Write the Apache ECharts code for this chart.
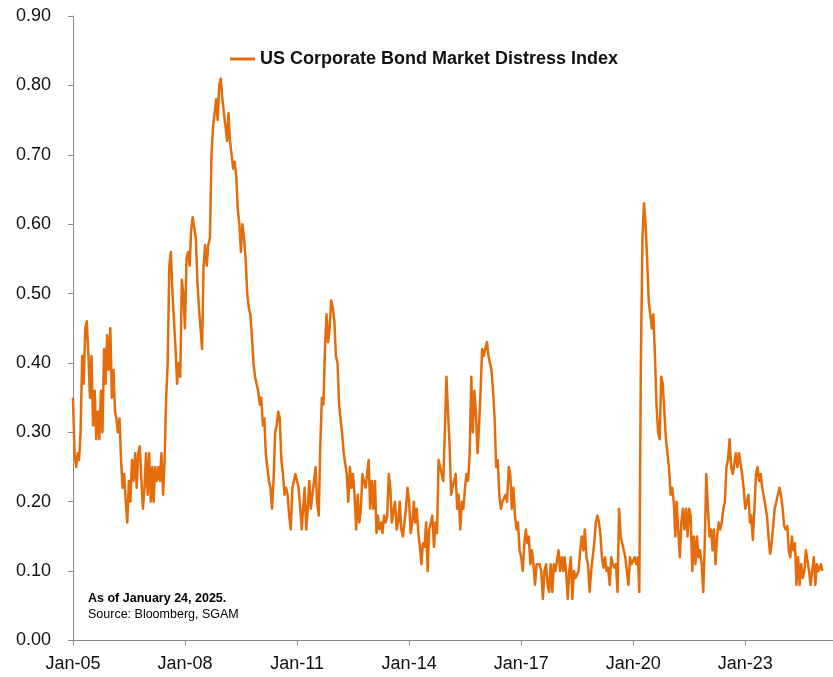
<!DOCTYPE html>
<html>
<head>
<meta charset="utf-8">
<script src="https://cdn.jsdelivr.net/npm/echarts@6/dist/echarts.min.js"></script>
<style>
  html, body { margin: 0; padding: 0; background: #ffffff; }
  #chart { width: 833px; height: 677px; }
</style>
</head>
<body>
<div id="chart"></div>
<script>
// US Corporate Bond Market Distress Index, readings on the 1st and 16th of each month
const v2005 = [0.35,0.27,0.25,0.27,0.26,0.30,0.41,0.37,0.45,0.46,0.41,0.35,0.41,0.31,0.36,0.29,0.33,0.29,0.36,0.30,0.42,0.37,0.44,0.39];
const v2006 = [0.45,0.35,0.39,0.33,0.32,0.30,0.32,0.26,0.22,0.24,0.20,0.17,0.23,0.20,0.26,0.23,0.27,0.22,0.27,0.28,0.23,0.19,0.22,0.27];
const v2007 = [0.21,0.27,0.20,0.25,0.20,0.25,0.23,0.25,0.23,0.27,0.21,0.26,0.35,0.40,0.54,0.56,0.50,0.46,0.42,0.37,0.40,0.38,0.52,0.50];
const v2008 = [0.45,0.55,0.56,0.54,0.59,0.61,0.61,0.58,0.52,0.48,0.45,0.42,0.54,0.57,0.54,0.57,0.58,0.70,0.74,0.74,0.78,0.75,0.80,0.81];
const v2009 = [0.78,0.76,0.74,0.72,0.76,0.72,0.70,0.68,0.69,0.67,0.62,0.60,0.56,0.60,0.58,0.55,0.50,0.48,0.47,0.44,0.40,0.38,0.37,0.36];
const v2010 = [0.34,0.35,0.31,0.32,0.27,0.25,0.23,0.22,0.19,0.23,0.30,0.31,0.33,0.32,0.26,0.24,0.21,0.22,0.21,0.18,0.16,0.22,0.22,0.24];
const v2011 = [0.24,0.22,0.19,0.16,0.19,0.22,0.16,0.19,0.23,0.19,0.19,0.23,0.25,0.20,0.18,0.28,0.35,0.34,0.42,0.47,0.43,0.45,0.49,0.48];
const v2012 = [0.46,0.41,0.40,0.34,0.32,0.30,0.27,0.27,0.24,0.20,0.25,0.22,0.24,0.21,0.16,0.21,0.17,0.19,0.24,0.23,0.22,0.24,0.26,0.19];
const v2013 = [0.23,0.19,0.23,0.155,0.18,0.16,0.17,0.155,0.18,0.17,0.18,0.24,0.22,0.17,0.17,0.20,0.16,0.17,0.20,0.16,0.15,0.17,0.19,0.22];
const v2014 = [0.20,0.155,0.17,0.20,0.17,0.19,0.155,0.135,0.11,0.14,0.135,0.17,0.10,0.16,0.17,0.18,0.135,0.17,0.155,0.26,0.25,0.25,0.23,0.30];
const v2015 = [0.38,0.33,0.28,0.21,0.22,0.22,0.24,0.19,0.21,0.16,0.20,0.19,0.22,0.24,0.23,0.27,0.38,0.30,0.36,0.33,0.27,0.31,0.36,0.42];
const v2016 = [0.41,0.42,0.43,0.41,0.40,0.39,0.36,0.32,0.25,0.26,0.21,0.19,0.20,0.20,0.21,0.20,0.25,0.24,0.19,0.22,0.18,0.16,0.17,0.13];
const v2017 = [0.12,0.10,0.14,0.16,0.14,0.15,0.11,0.13,0.11,0.08,0.11,0.11,0.11,0.10,0.06,0.10,0.11,0.08,0.07,0.11,0.07,0.11,0.10,0.10];
const v2018 = [0.13,0.10,0.12,0.10,0.12,0.10,0.06,0.10,0.12,0.06,0.10,0.09,0.09,0.10,0.13,0.15,0.13,0.16,0.12,0.11,0.07,0.10,0.12,0.14];
const v2019 = [0.17,0.18,0.17,0.15,0.12,0.105,0.12,0.10,0.105,0.08,0.12,0.11,0.105,0.11,0.07,0.19,0.15,0.15,0.13,0.12,0.12,0.08,0.12,0.11];
const v2020 = [0.11,0.12,0.11,0.12,0.07,0.40,0.58,0.63,0.60,0.55,0.49,0.47,0.45,0.47,0.41,0.34,0.30,0.29,0.38,0.37,0.33,0.29,0.27,0.25];
const v2021 = [0.21,0.22,0.20,0.15,0.20,0.16,0.12,0.17,0.19,0.16,0.19,0.15,0.19,0.18,0.10,0.15,0.11,0.15,0.12,0.13,0.11,0.07,0.14,0.24];
const v2022 = [0.19,0.15,0.16,0.13,0.16,0.11,0.15,0.17,0.16,0.17,0.19,0.20,0.25,0.26,0.29,0.25,0.24,0.24,0.27,0.25,0.27,0.27,0.24,0.22];
const v2023 = [0.19,0.19,0.21,0.17,0.18,0.145,0.19,0.24,0.25,0.23,0.24,0.22,0.22,0.195,0.18,0.15,0.125,0.14,0.165,0.19,0.20,0.21,0.22,0.21];
const v2024 = [0.19,0.165,0.16,0.165,0.13,0.12,0.15,0.13,0.14,0.08,0.12,0.08,0.11,0.09,0.10,0.13,0.13,0.10,0.08,0.10,0.12,0.08,0.11,0.10];
const dates2025 = ['2025-01-10', '2025-01-24'];
const v2025 = [0.11, 0.10];

const seriesName = 'US Corporate Bond Market Distress Index';
const xTickDates = ['2005-01-01','2008-01-01','2011-01-01','2014-01-01','2017-01-01','2020-01-01','2023-01-01'];
const xAxisEnd = '2025-05-08';
const noteLines = ['As of January 24, 2025.', 'Source: Bloomberg, SGAM'];

const yearly = [v2005,v2006,v2007,v2008,v2009,v2010,v2011,v2012,v2013,v2014,
                v2015,v2016,v2017,v2018,v2019,v2020,v2021,v2022,v2023,v2024];

// The x axis is measured in years elapsed since 1 Jan 2005
const ORIGIN = Date.UTC(2005, 0, 1);
const YEAR_MS = 365.25 * 864e5;
const yearsSince = ms => (ms - ORIGIN) / YEAR_MS;
const parseDay = s => {
  const [y, m, d] = s.split('-').map(Number);
  return Date.UTC(y, m - 1, d);
};

const points = [];
yearly.forEach((vals, yi) => {
  const year = 2005 + yi;
  vals.forEach((v, k) => {
    points.push([yearsSince(Date.UTC(year, Math.floor(k / 2), k % 2 ? 16 : 1)), v]);
  });
});
dates2025.forEach((d, i) => points.push([yearsSince(parseDay(d)), v2025[i]]));

const tickPos = xTickDates.map(d => yearsSince(parseDay(d)));
const tickLabel = {};
xTickDates.forEach((d, i) => { tickLabel[tickPos[i].toFixed(4)] = 'Jan-' + d.slice(2, 4); });

const FONT = '"Liberation Sans", Arial, Helvetica, sans-serif';
const ORANGE = '#E46C0A';
const AXIS = '#8a8a8a';
const TEXT = '#111111';

const chart = echarts.init(document.getElementById('chart'), null, { renderer: 'canvas' });
chart.setOption({
  animation: false,
  backgroundColor: '#ffffff',
  grid: { left: 73, right: 0, top: 16, bottom: 36.5, containLabel: false },
  legend: {
    data: [seriesName],
    left: 225,
    top: 45,
    icon: 'rect',
    itemWidth: 25,
    itemHeight: 3,
    textStyle: { fontFamily: FONT, fontSize: 18, fontWeight: 'bold', color: TEXT }
  },
  xAxis: {
    type: 'value',
    min: 0,
    max: yearsSince(parseDay(xAxisEnd)),
    axisLine: { show: true, onZero: false, lineStyle: { color: AXIS, width: 1 } },
    axisTick: { show: true, length: 5, customValues: tickPos, lineStyle: { color: AXIS } },
    axisLabel: {
      customValues: tickPos,
      margin: 15,
      fontFamily: FONT,
      fontSize: 18,
      color: TEXT,
      formatter: val => tickLabel[Number(val).toFixed(4)] || ''
    },
    splitLine: { show: false }
  },
  yAxis: {
    type: 'value',
    min: 0,
    max: 0.9,
    interval: 0.1,
    axisLine: { show: true, lineStyle: { color: AXIS, width: 1 } },
    axisTick: { show: true, length: 5, lineStyle: { color: AXIS } },
    axisLabel: {
      margin: 22,
      fontFamily: FONT,
      fontSize: 18,
      color: TEXT,
      formatter: v => v.toFixed(2)
    },
    splitLine: { show: false }
  },
  series: [{
    name: seriesName,
    type: 'line',
    data: points,
    showSymbol: false,
    symbol: 'none',
    lineStyle: { color: ORANGE, width: 2.5, join: 'round' },
    itemStyle: { color: ORANGE }
  }],
  graphic: [
    {
      type: 'text', left: 88, top: 592,
      style: { text: noteLines[0], font: 'bold 12.5px ' + FONT, fill: '#000000' }
    },
    {
      type: 'text', left: 88, top: 608,
      style: { text: noteLines[1], font: '12.5px ' + FONT, fill: '#000000' }
    }
  ]
});
</script>
</body>
</html>
